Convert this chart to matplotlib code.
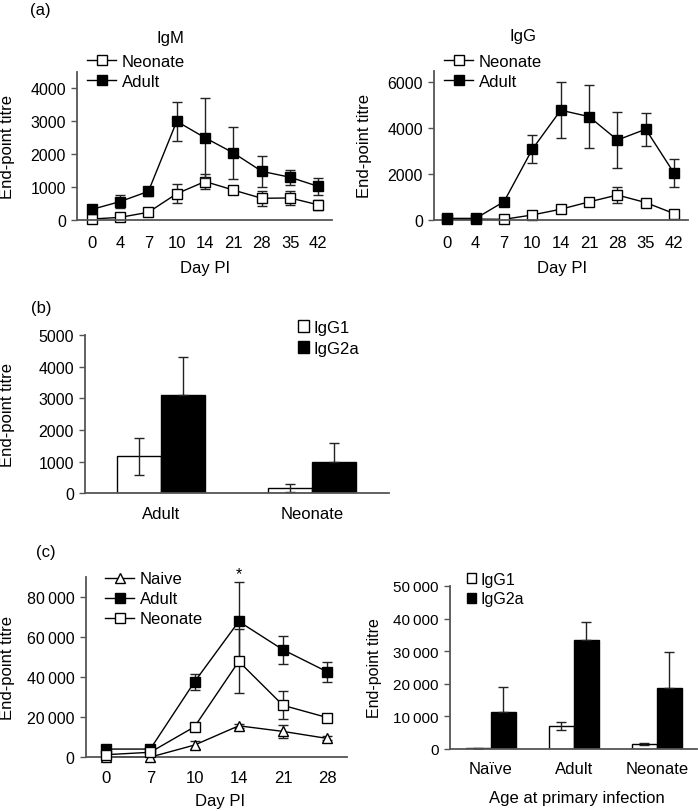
import matplotlib
matplotlib.use('Agg')
import matplotlib.pyplot as plt
import numpy as np
from matplotlib.lines import Line2D
from matplotlib.patches import Patch

plt.rcParams['font.family'] = ['Liberation Sans', 'DejaVu Sans']
plt.rcParams['font.size'] = 11.5

# ---------------- data ----------------
days_a = ['0', '4', '7', '10', '14', '21', '28', '35', '42']
igm_adult = [320, 560, 870, 3000, 2500, 2040, 1480, 1300, 1020]
igm_adult_err = [60, 210, 140, 600, 1220, 800, 470, 230, 260]
igm_neonate = [30, 80, 235, 800, 1170, 910, 660, 670, 460]
igm_neonate_err = [20, 50, 50, 290, 230, 80, 220, 210, 150]

igg_adult = [70, 70, 800, 3090, 4790, 4510, 3490, 3960, 2040]
igg_adult_err = [30, 30, 80, 600, 1220, 1370, 1200, 710, 620]
igg_neonate = [40, 40, 30, 220, 470, 790, 1090, 760, 280]
igg_neonate_err = [10, 10, 20, 80, 100, 120, 350, 150, 80]

groups_b = ['Adult', 'Neonate']
b_igg1 = [1170, 160]
b_igg1_err = [590, 130]
b_igg2a = [3090, 1000]
b_igg2a_err = [1200, 580]

days_c = ['0', '7', '10', '14', '21', '28']
c_naive = [300, 100, 6100, 15700, 12900, 9400]
c_naive_err = [0, 0, 2000, 1000, 3300, 1000]
c_adult = [4100, 4100, 37600, 67700, 53600, 42600]
c_adult_err = [300, 500, 4000, 19500, 7000, 5000]
c_neonate = [1300, 2500, 15200, 47800, 25900, 19800]
c_neonate_err = [300, 300, 1000, 16000, 7000, 1000]

groups_c = ['Naïve', 'Adult', 'Neonate']
c_igg1 = [300, 6970, 1430]
c_igg1_err = [150, 1230, 300]
c_igg2a = [11200, 33500, 18650]
c_igg2a_err = [7700, 5400, 11100]

yt_am = [0, 1000, 2000, 3000, 4000]
yt_ag = [0, 2000, 4000, 6000]
yt_b = [0, 1000, 2000, 3000, 4000, 5000]
yt_cl = [0, 20000, 40000, 60000, 80000]
yt_cl_lab = ['0', '20\u2009000', '40\u2009000', '60\u2009000', '80\u2009000']
yt_cr = [0, 10000, 20000, 30000, 40000, 50000]
yt_cr_lab = ['0', '10\u2009000', '20\u2009000', '30\u2009000', '40\u2009000', '50\u2009000']

# ---------------- layout ----------------
W, H = 698, 812
fig = plt.figure(figsize=(W / 100, H / 100), dpi=100)
FS = 11.5
XFS = 12


def rect(l, r, t, b):
    return [l / W, 1 - b / H, (r - l) / W, (b - t) / H]


SPINE = '#555555'


def style(ax, xpad=9, yfs=FS):
    for s in ['top', 'right']:
        ax.spines[s].set_visible(False)
    for s in ['left', 'bottom']:
        ax.spines[s].set_color(SPINE)
        ax.spines[s].set_linewidth(1.3)
    ax.tick_params(axis='y', direction='out', length=4, width=1, color=SPINE, pad=4, labelsize=yfs)
    ax.tick_params(axis='x', length=0, pad=xpad, labelsize=XFS)


def line_series(ax, x, y, e, marker, face, ms, z):
    ax.errorbar(x, y, yerr=e, fmt='none', ecolor='#222222', elinewidth=1, capsize=3.5,
                capthick=1, zorder=z)
    ax.plot(x, y, color='black', lw=1, marker=marker, ms=ms, mfc=face, mec='black',
            mew=1, zorder=z + 0.5, clip_on=False)


def fig_legend(ax, handles, labels, x, y, fs=12, hl=1.75, hh=0.7, htp=0.35, ls=0.3):
    ax.legend(handles, labels, loc='center left', bbox_to_anchor=(x / W, 1 - y / H),
              bbox_transform=fig.transFigure, frameon=False, borderpad=0, borderaxespad=0,
              handlelength=hl, handleheight=hh, handletextpad=htp, labelspacing=ls,
              fontsize=fs)


ekw = dict(ecolor='#222222', elinewidth=1, capsize=3.5, capthick=1)

# ----- (a) IgM -----
ax1 = fig.add_axes(rect(77, 332, 73, 221))
xa = np.arange(len(days_a))
line_series(ax1, xa, igm_neonate, igm_neonate_err, 's', 'white', 6.5, 2)
line_series(ax1, xa, igm_adult, igm_adult_err, 's', 'black', 6.5, 3)
ax1.set_xlim(-0.52, len(days_a) - 0.52)
ax1.set_ylim(0, 4500)
ax1.set_yticks(yt_am)
ax1.set_xticks(xa)
ax1.set_xticklabels(days_a)
style(ax1, xpad=10.5)
ax1.set_ylabel('End-point titre', fontsize=XFS)
ax1.yaxis.set_label_coords(-0.243, 0.5)
ax1.set_xlabel('Day PI', fontsize=XFS)
ax1.xaxis.set_label_coords(0.502, -0.27)
fig.text(170 / W, 1 - 38 / H, 'IgM', ha='center', va='center', fontsize=XFS)
h_neo = Line2D([], [], color='black', lw=1, marker='s', ms=6.5, mfc='white', mec='black')
h_ad = Line2D([], [], color='black', lw=1, marker='s', ms=6.5, mfc='black', mec='black')
fig_legend(ax1, [h_neo, h_ad], ['Neonate', 'Adult'], 87, 72.5)

# ----- (a) IgG -----
ax2 = fig.add_axes(rect(434, 688, 72, 221))
line_series(ax2, xa, igg_neonate, igg_neonate_err, 's', 'white', 6.5, 2)
line_series(ax2, xa, igg_adult, igg_adult_err, 's', 'black', 6.5, 3)
ax2.set_xlim(-0.47, len(days_a) - 0.51)
ax2.set_ylim(0, 6500)
ax2.set_yticks(yt_ag)
ax2.set_xticks(xa)
ax2.set_xticklabels(days_a)
style(ax2, xpad=10.5)
ax2.set_ylabel('End-point titre', fontsize=XFS)
ax2.yaxis.set_label_coords(-0.245, 0.5)
ax2.set_xlabel('Day PI', fontsize=XFS)
ax2.xaxis.set_label_coords(0.503, -0.27)
fig.text(523 / W, 1 - 36 / H, 'IgG', ha='center', va='center', fontsize=XFS)
fig_legend(ax2, [h_neo, h_ad], ['Neonate', 'Adult'], 444, 72.8)

fig.text(30 / W, 1 - 10 / H, '(a)', ha='left', va='center', fontsize=XFS)

# ----- (b) -----
ax3 = fig.add_axes(rect(85, 389, 336, 494.3))
xb = np.arange(len(groups_b))
wb = 0.29
ax3.bar(xb - wb / 2, b_igg1, wb, color='white', edgecolor='black', lw=1, zorder=2,
        yerr=b_igg1_err, error_kw=ekw)
ax3.bar(xb + wb / 2, b_igg2a, wb, color='black', edgecolor='black', lw=1, zorder=2,
        yerr=[np.zeros(len(b_igg2a_err)), b_igg2a_err], error_kw=ekw)
ax3.set_xlim(-0.503, 1.51)
ax3.set_ylim(0, 5000)
ax3.set_yticks(yt_b)
ax3.set_xticks(xb)
ax3.set_xticklabels(groups_b)
style(ax3)
ax3.set_ylabel('End-point titre', fontsize=XFS)
ax3.yaxis.set_label_coords(-0.23, 0.5)
hp1 = Patch(facecolor='white', edgecolor='black', lw=1)
hp2 = Patch(facecolor='black', edgecolor='black', lw=1)
fig_legend(ax3, [hp1, hp2], ['IgG1', 'IgG2a'], 297.7, 339, hl=0.7, hh=0.7, htp=0.25, ls=0.35)
fig.text(31 / W, 1 - 309 / H, '(b)', ha='left', va='center', fontsize=XFS)

# ----- (c) left -----
ax4 = fig.add_axes(rect(85.7, 346.7, 577.7, 758.3))
xc = np.arange(len(days_c))
line_series(ax4, xc, c_naive, c_naive_err, '^', 'white', 7.5, 2)
line_series(ax4, xc, c_adult, c_adult_err, 's', 'black', 6.5, 3)
line_series(ax4, xc, c_neonate, c_neonate_err, 's', 'white', 6.5, 4)
ax4.set_xlim(-0.46, len(days_c) - 0.56)
ax4.set_ylim(0, 90000)
ax4.set_yticks(yt_cl)
ax4.set_yticklabels(yt_cl_lab)
ax4.set_xticks(xc)
ax4.set_xticklabels(days_c)
style(ax4)
ax4.set_ylabel('End-point titre', fontsize=XFS)
ax4.yaxis.set_label_coords(-0.271, 0.5)
ax4.set_xlabel('Day PI', fontsize=XFS)
ax4.xaxis.set_label_coords(0.515, -0.2)
ax4.annotate('*', xy=(3, c_adult[3] + c_adult_err[3]), xytext=(0, 1), textcoords='offset points',
             ha='center', va='bottom', fontsize=FS, annotation_clip=False)
h_nv = Line2D([], [], color='black', lw=1, marker='^', ms=7.5, mfc='white', mec='black')
fig_legend(ax4, [h_nv, h_ad, h_neo], ['Naive', 'Adult', 'Neonate'], 105, 600)
fig.text(36 / W, 1 - 553 / H, '(c)', ha='left', va='center', fontsize=XFS)

# ----- (c) right -----
ax5 = fig.add_axes(rect(450, 696.7, 587, 750))
xr = np.arange(len(groups_c))
wc = 0.3
ax5.bar(xr - wc / 2, c_igg1, wc, color='white', edgecolor='black', lw=1, zorder=2,
        yerr=c_igg1_err, error_kw=ekw)
ax5.bar(xr + wc / 2, c_igg2a, wc, color='black', edgecolor='black', lw=1, zorder=2,
        yerr=[np.zeros(len(c_igg2a_err)), c_igg2a_err], error_kw=ekw)
ax5.set_xlim(-0.49, 2.48)
ax5.set_ylim(0, 50000)
ax5.set_yticks(yt_cr)
ax5.set_yticklabels(yt_cr_lab)
ax5.set_xticks(xr)
ax5.set_xticklabels(groups_c)
style(ax5, yfs=11)
ax5.set_ylabel('End-point titre', fontsize=11.5)
ax5.yaxis.set_label_coords(-0.277, 0.5)
ax5.set_xlabel('Age at primary infection', fontsize=XFS)
ax5.xaxis.set_label_coords(0.514, -0.25)
fig_legend(ax5, [hp1, hp2], ['IgG1', 'IgG2a'], 466.7, 590, fs=11.5, hl=0.6, hh=0.6, htp=0.25, ls=0.3)

fig.savefig('out.png', dpi=100)
